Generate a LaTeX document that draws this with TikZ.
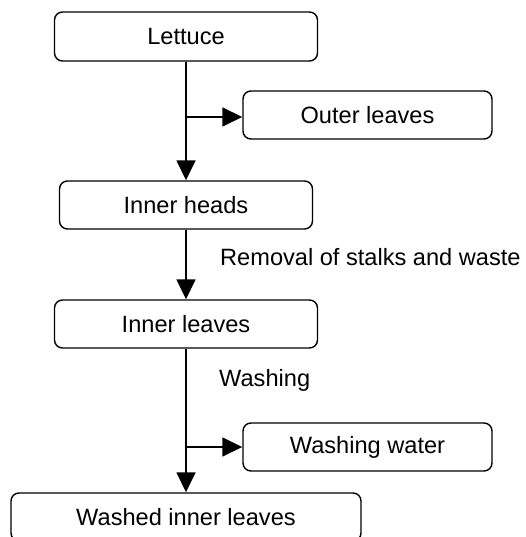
\documentclass[tikz,border=0pt]{standalone}
\usepackage{fontspec}
\setmainfont{Liberation Sans}
\usetikzlibrary{arrows.meta}
\begin{document}
\begin{tikzpicture}[x=1pt,y=-1pt,
  font=\fontsize{23.6}{28}\selectfont,
  box/.style={draw, line width=1.4pt, rounded corners=8pt, minimum height=48pt, inner sep=0pt},
  arr/.style={line width=1.6pt, -{Triangle[length=20pt,width=19pt]}},
  lbl/.style={anchor=west, inner sep=0pt}]
\useasboundingbox (0,0) rectangle (526,537);
\node[box, minimum width=263pt, minimum height=49pt] (lettuce) at (186,36.5) {Lettuce};
\node[box, minimum width=249pt] (outer) at (367.5,115) {Outer leaves};
\node[box, minimum width=253pt] (heads) at (186,205) {Inner heads};
\node[box, minimum width=263pt] (inner) at (186,324) {Inner leaves};
\node[box, minimum width=249pt] (water) at (367.5,447) {Washing water};
\node[box, minimum width=350pt] (washed) at (186,517) {Washed inner leaves};
\node[lbl] (removal) at (220,257) {Removal of stalks and waste};
\node[lbl] (washing) at (219,380) {Washing};
\coordinate (b1) at (186,117);
\coordinate (b2) at (186,447);
\draw[arr] (lettuce) -- (heads);
\draw[arr] (b1) -- (b1 -| outer.west);
\draw[arr] (heads) -- (inner);
\draw[arr] (inner) -- (washed);
\draw[arr] (b2) -- (water);
\end{tikzpicture}
\end{document}
